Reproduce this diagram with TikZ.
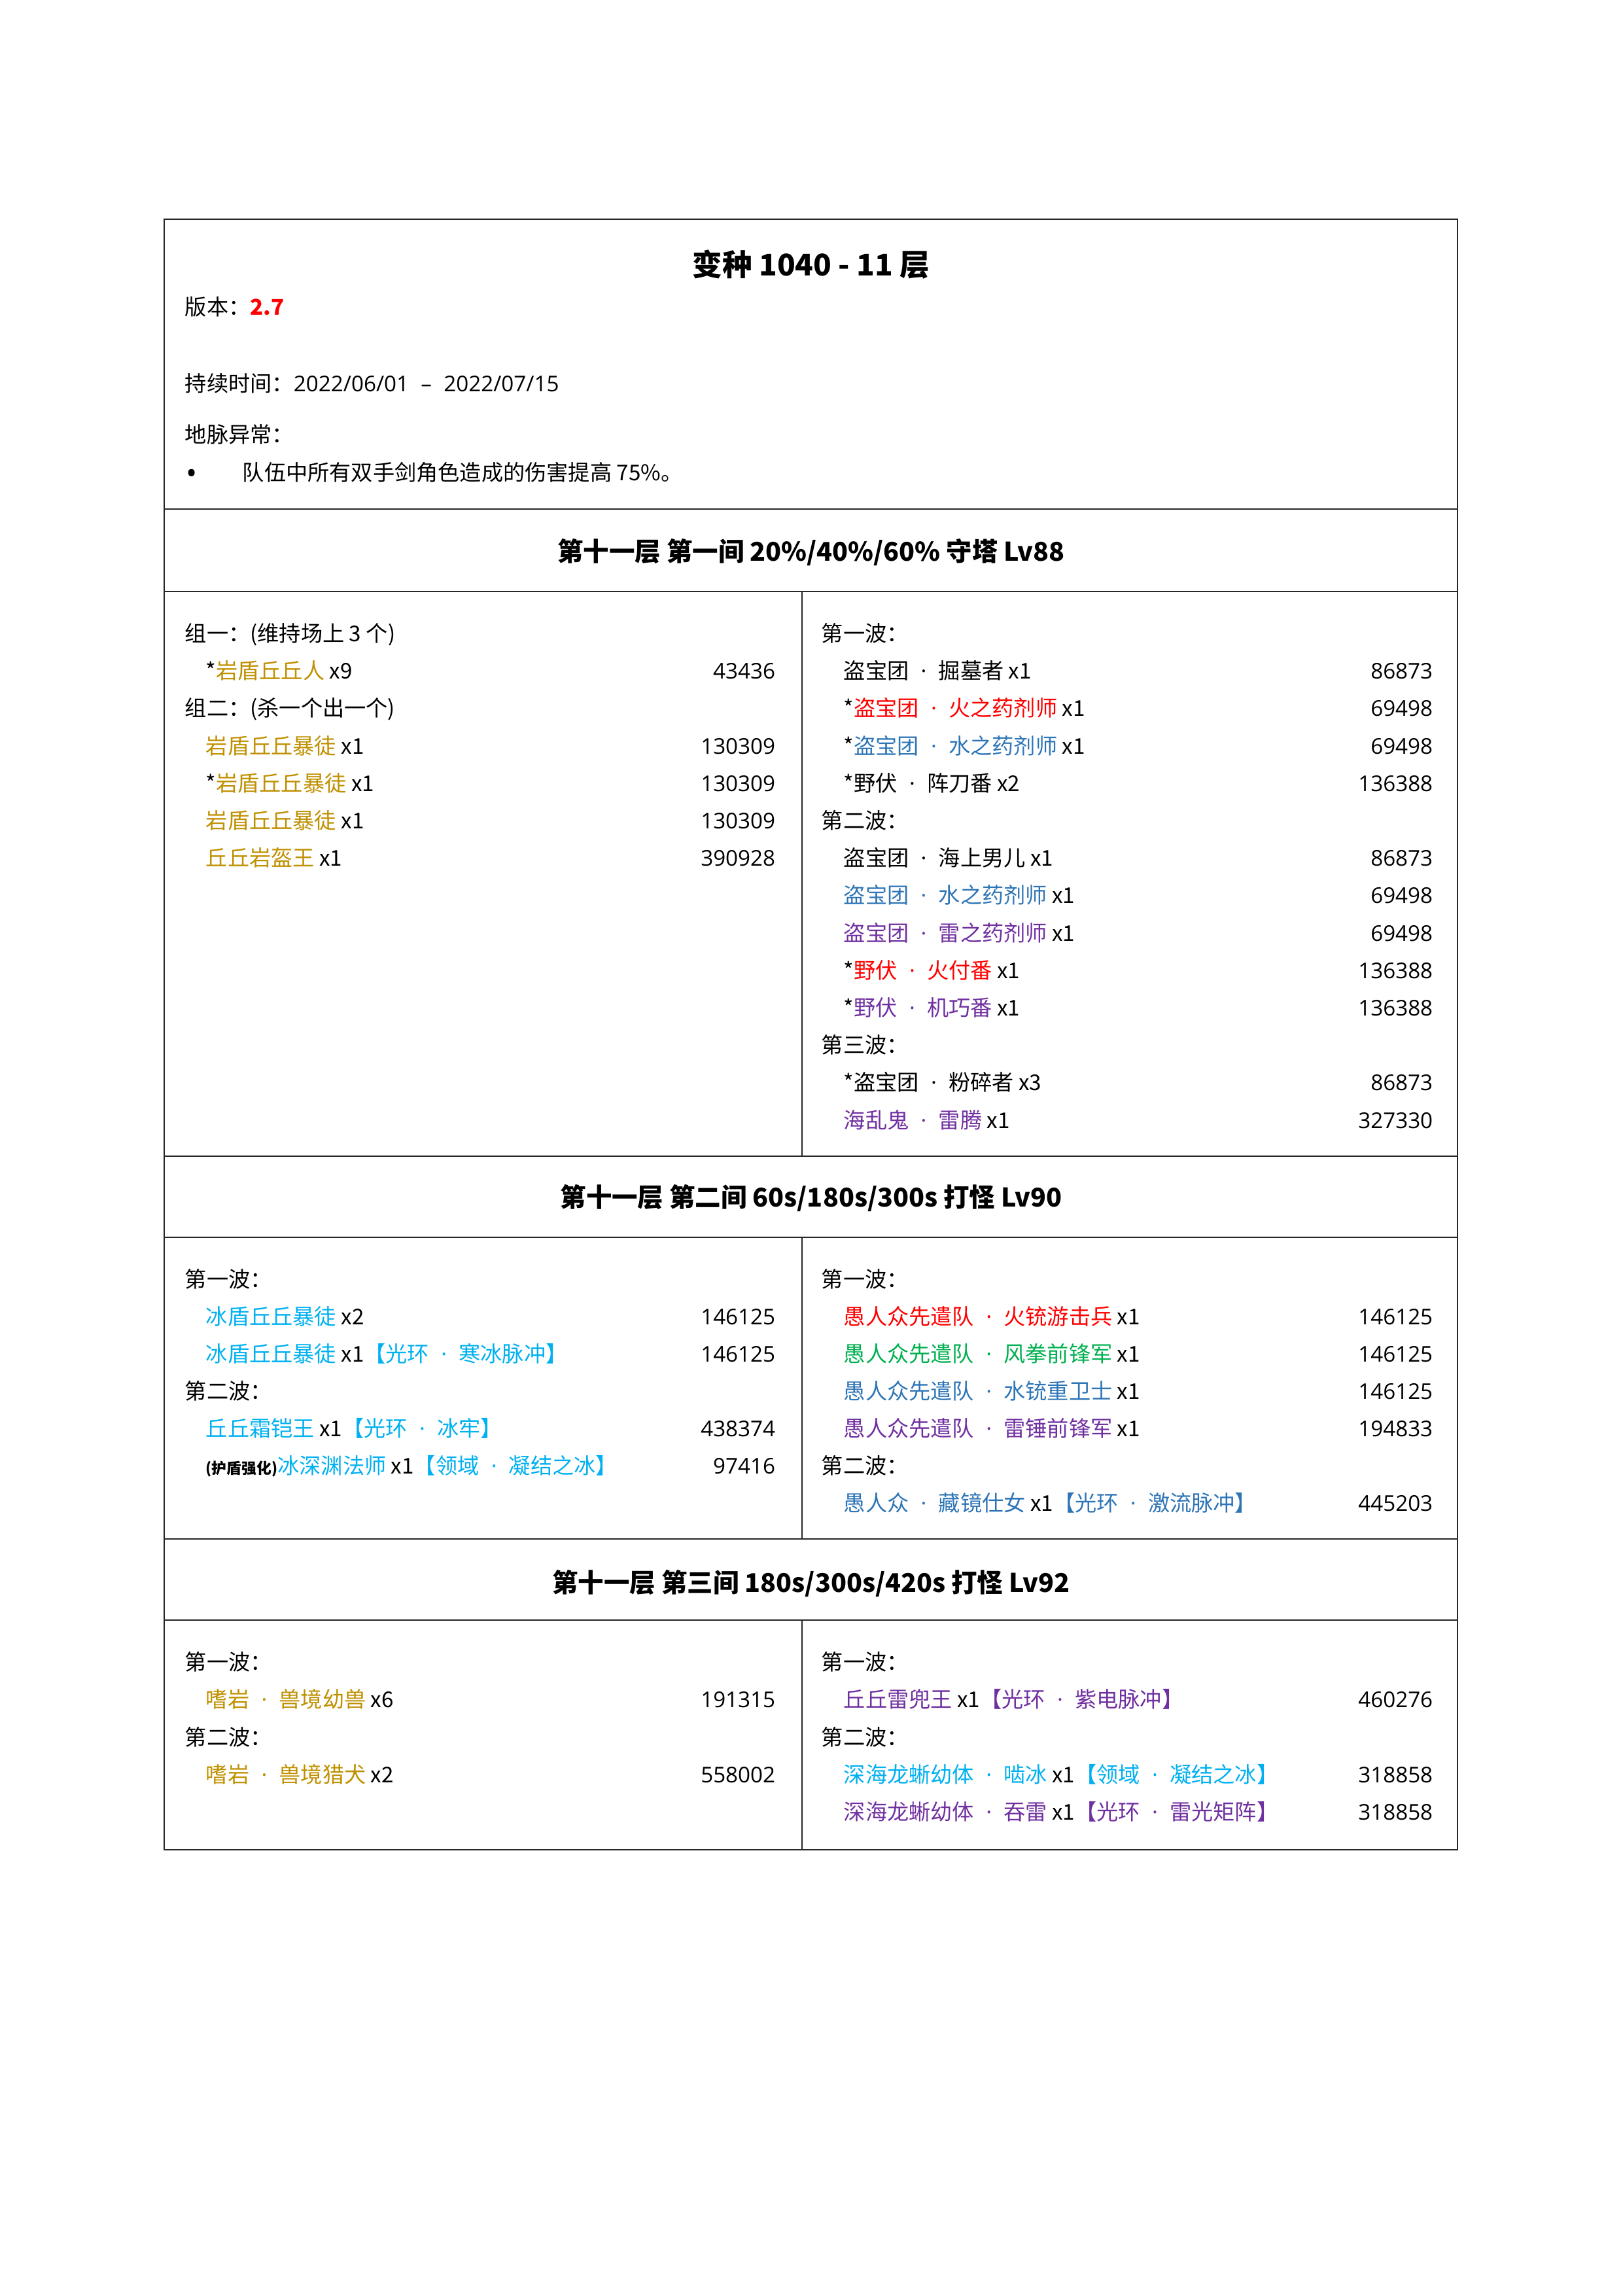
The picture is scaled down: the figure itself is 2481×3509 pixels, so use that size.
\documentclass[tikz,border=0pt]{standalone}
\usepackage{fontspec}
\setmainfont{Noto Sans CJK SC}
\newfontfamily\latinfont{Open Sans}
\definecolor{rock}{HTML}{BF9000}
\definecolor{pyro}{HTML}{FF0000}
\definecolor{hydro}{HTML}{2E75B6}
\definecolor{electro}{HTML}{7030A0}
\definecolor{cryo}{HTML}{00B0F0}
\definecolor{anemo}{HTML}{00B050}
\newcommand{\mdot}{\hspace{0.55em}{\latinfont ·}\hspace{0.55em}}
\begin{document}
\begin{tikzpicture}[x=0.0846667mm, y=-0.0846667mm,
    txt/.style={anchor=west, inner sep=0pt, font=\fontsize{8}{10}\selectfont, text height=6pt, text depth=0pt},
    num/.style={txt, anchor=east, font=\fontsize{8}{10}\selectfont\latinfont},
    hdr/.style={inner sep=0pt, font=\fontsize{9.5}{11}\selectfont\bfseries, text height=7.1pt, text depth=0pt},
    rule/.style={line width=0.7pt, black!85}]
        \useasboundingbox (0,0) rectangle (2481,3509);

        % Table frame
        \draw[rule] (251,335) rectangle (2228,2827);
        \draw[rule] (251,778) -- (2228,778);
        \draw[rule] (251,904) -- (2228,904);
        \draw[rule] (251,1767) -- (2228,1767);
        \draw[rule] (251,1891) -- (2228,1891);
        \draw[rule] (251,2352) -- (2228,2352);
        \draw[rule] (251,2476) -- (2228,2476);
        \draw[rule] (1226,904) -- (1226,1767);
        \draw[rule] (1226,1891) -- (1226,2352);
        \draw[rule] (1226,2476) -- (1226,2827);

        % Title block
        \node[hdr, font=\fontsize{11}{13}\selectfont\bfseries, text height=8.2pt] (title) at (1240,404) {变种 1040 - 11 层};
        \node[txt] (ver) at (282,469) {版本：\textcolor{pyro}{\bfseries 2.7}};
        \node[txt] (dur) at (282,586) {持续时间：{\latinfont 2022/06/01\hspace{0.55em}–\hspace{0.55em}2022/07/15}};
        \node[txt] (ley) at (282,664) {地脉异常：};
        \node[txt, font=\fontsize{11}{12}\selectfont\latinfont, text height=8.2pt] (dot) at (284,722) {•};
        \node[txt] (buff) at (370,722) {队伍中所有双手剑角色造成的伤害提高 75\%。};

        % Chamber 1
        \node[hdr] (h1) at (1240,843) {第十一层 第一间 20\%/40\%/60\% 守塔 Lv88};

        \node[txt] (g1) at (282,968) {组一：(维持场上 3 个)};
        \node[txt] (g1a) at (314,1025) {*\textcolor{rock}{岩盾丘丘人} x9};
        \node[num] (g1an) at (1186,1025) {43436};
        \node[txt] (g2) at (282,1082) {组二：(杀一个出一个)};
        \node[txt] (g2a) at (314,1140) {\textcolor{rock}{岩盾丘丘暴徒} x1};
        \node[num] (g2an) at (1186,1140) {130309};
        \node[txt] (g2b) at (314,1197) {*\textcolor{rock}{岩盾丘丘暴徒} x1};
        \node[num] (g2bn) at (1186,1197) {130309};
        \node[txt] (g2c) at (314,1254) {\textcolor{rock}{岩盾丘丘暴徒} x1};
        \node[num] (g2cn) at (1186,1254) {130309};
        \node[txt] (g2d) at (314,1311) {\textcolor{rock}{丘丘岩盔王} x1};
        \node[num] (g2dn) at (1186,1311) {390928};

        \node[txt] (w1) at (1255,968) {第一波：};
        \node[txt] (w1a) at (1289,1025) {盗宝团\mdot 掘墓者 x1};
        \node[num] (w1an) at (2191,1025) {86873};
        \node[txt] (w1b) at (1289,1082) {*\textcolor{pyro}{盗宝团\mdot 火之药剂师} x1};
        \node[num] (w1bn) at (2191,1082) {69498};
        \node[txt] (w1c) at (1289,1140) {*\textcolor{hydro}{盗宝团\mdot 水之药剂师} x1};
        \node[num] (w1cn) at (2191,1140) {69498};
        \node[txt] (w1d) at (1289,1197) {*野伏\mdot 阵刀番 x2};
        \node[num] (w1dn) at (2191,1197) {136388};
        \node[txt] (w2) at (1255,1254) {第二波：};
        \node[txt] (w2a) at (1289,1311) {盗宝团\mdot 海上男儿 x1};
        \node[num] (w2an) at (2191,1311) {86873};
        \node[txt] (w2b) at (1289,1368) {\textcolor{hydro}{盗宝团\mdot 水之药剂师} x1};
        \node[num] (w2bn) at (2191,1368) {69498};
        \node[txt] (w2c) at (1289,1426) {\textcolor{electro}{盗宝团\mdot 雷之药剂师} x1};
        \node[num] (w2cn) at (2191,1426) {69498};
        \node[txt] (w2d) at (1289,1483) {*\textcolor{pyro}{野伏\mdot 火付番} x1};
        \node[num] (w2dn) at (2191,1483) {136388};
        \node[txt] (w2e) at (1289,1540) {*\textcolor{electro}{野伏\mdot 机巧番} x1};
        \node[num] (w2en) at (2191,1540) {136388};
        \node[txt] (w3) at (1255,1597) {第三波：};
        \node[txt] (w3a) at (1289,1654) {*盗宝团\mdot 粉碎者 x3};
        \node[num] (w3an) at (2191,1654) {86873};
        \node[txt] (w3b) at (1289,1712) {\textcolor{electro}{海乱鬼\mdot 雷腾} x1};
        \node[num] (w3bn) at (2191,1712) {327330};

        % Chamber 2
        \node[hdr] (h2) at (1240,1830) {第十一层 第二间 60s/180s/300s 打怪 Lv90};

        \node[txt] (p1) at (282,1955) {第一波：};
        \node[txt] (p1a) at (314,2012) {\textcolor{cryo}{冰盾丘丘暴徒} x2};
        \node[num] (p1an) at (1186,2012) {146125};
        \node[txt] (p1b) at (314,2069) {\textcolor{cryo}{冰盾丘丘暴徒} x1\textcolor{cryo}{【光环\mdot 寒冰脉冲】}};
        \node[num] (p1bn) at (1186,2069) {146125};
        \node[txt] (p2) at (282,2126) {第二波：};
        \node[txt] (p2a) at (314,2183) {\textcolor{cryo}{丘丘霜铠王} x1\textcolor{cryo}{【光环\mdot 冰牢】}};
        \node[num] (p2an) at (1186,2183) {438374};
        \node[txt] (p2b) at (314,2240) {{\fontsize{5.5}{6}\selectfont\bfseries (护盾强化)}\textcolor{cryo}{冰深渊法师} x1\textcolor{cryo}{【领域\mdot 凝结之冰】}};
        \node[num] (p2bn) at (1186,2240) {97416};

        \node[txt] (q1) at (1255,1955) {第一波：};
        \node[txt] (q1a) at (1289,2012) {\textcolor{pyro}{愚人众先遣队\mdot 火铳游击兵} x1};
        \node[num] (q1an) at (2191,2012) {146125};
        \node[txt] (q1b) at (1289,2069) {\textcolor{anemo}{愚人众先遣队\mdot 风拳前锋军} x1};
        \node[num] (q1bn) at (2191,2069) {146125};
        \node[txt] (q1c) at (1289,2126) {\textcolor{hydro}{愚人众先遣队\mdot 水铳重卫士} x1};
        \node[num] (q1cn) at (2191,2126) {146125};
        \node[txt] (q1d) at (1289,2183) {\textcolor{electro}{愚人众先遣队\mdot 雷锤前锋军} x1};
        \node[num] (q1dn) at (2191,2183) {194833};
        \node[txt] (q2) at (1255,2240) {第二波：};
        \node[txt] (q2a) at (1289,2297) {\textcolor{hydro}{愚人众\mdot 藏镜仕女} x1\textcolor{hydro}{【光环\mdot 激流脉冲】}};
        \node[num] (q2an) at (2191,2297) {445203};

        % Chamber 3
        \node[hdr] (h3) at (1240,2419) {第十一层 第三间 180s/300s/420s 打怪 Lv92};

        \node[txt] (r1) at (282,2540) {第一波：};
        \node[txt] (r1a) at (314,2597) {\textcolor{rock}{嗜岩\mdot 兽境幼兽} x6};
        \node[num] (r1an) at (1186,2597) {191315};
        \node[txt] (r2) at (282,2655) {第二波：};
        \node[txt] (r2a) at (314,2712) {\textcolor{rock}{嗜岩\mdot 兽境猎犬} x2};
        \node[num] (r2an) at (1186,2712) {558002};

        \node[txt] (t1) at (1255,2540) {第一波：};
        \node[txt] (t1a) at (1289,2597) {\textcolor{electro}{丘丘雷兜王} x1\textcolor{electro}{【光环\mdot 紫电脉冲】}};
        \node[num] (t1an) at (2191,2597) {460276};
        \node[txt] (t2) at (1255,2655) {第二波：};
        \node[txt] (t2a) at (1289,2712) {\textcolor{cryo}{深海龙蜥幼体\mdot 啮冰} x1\textcolor{cryo}{【领域\mdot 凝结之冰】}};
        \node[num] (t2an) at (2191,2712) {318858};
        \node[txt] (t2b) at (1289,2769) {\textcolor{electro}{深海龙蜥幼体\mdot 吞雷} x1\textcolor{electro}{【光环\mdot 雷光矩阵】}};
        \node[num] (t2bn) at (2191,2769) {318858};
    \end{tikzpicture}
\end{document}
